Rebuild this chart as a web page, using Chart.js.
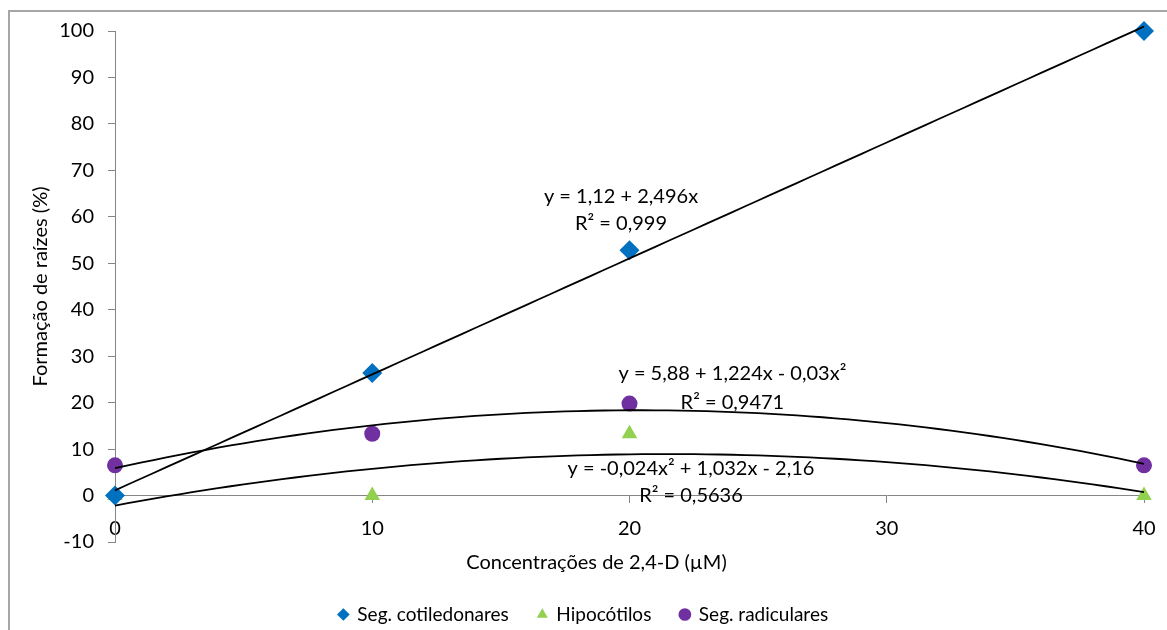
<!DOCTYPE html>
<html>
<head>
<meta charset="utf-8">
<script src="https://cdn.jsdelivr.net/npm/chart.js@4/dist/chart.umd.min.js"></script>
<style>
  html, body { margin: 0; padding: 0; background: #fff; }
  #wrap { width: 1167px; height: 630px; }
</style>
</head>
<body>
<div id="wrap"><canvas id="chart" width="1167" height="630"></canvas></div>
<script>
// values
var concentracoes = [0, 10, 20, 40];
var segCotiledonares = [0, 26.4, 52.8, 100];
var hipocotilos = [0, 0, 13.3, 0];
var segRadiculares = [6.5, 13.3, 19.8, 6.5];
var seriesNames = ['Seg. cotiledonares', 'Hipocótilos', 'Seg. radiculares'];

var xTicks = [0, 10, 20, 30, 40];
var yTicks = [-10, 0, 10, 20, 30, 40, 50, 60, 70, 80, 90, 100];

// trendline coefficients printed on the chart (c0 + c1*x + c2*x^2)
var coefCotiledonares = [1.12, 2.496, 0];
var coefRadiculares = [5.88, 1.224, -0.03];
var coefHipocotilos = [-2.16, 1.032, -0.024];

var eqCotiledonares = ['y = 1,12 + 2,496x', 'R² = 0,999'];
var eqRadiculares = ['y = 5,88 + 1,224x - 0,03x²', 'R² = 0,9471'];
var eqHipocotilos = ['y = -0,024x² + 1,032x - 2,16', 'R² = 0,5636'];

var FONT = 'Lato';
var AXIS_GRAY = '#868686';

function points(ys) {
  return concentracoes.map(function (x, i) { return { x: x, y: ys[i] }; });
}

function trend(coef) {
  var pts = [];
  for (var x = 0; x <= 40; x += 0.5) {
    pts.push({ x: x, y: coef[0] + coef[1] * x + coef[2] * x * x });
  }
  return pts;
}

function trendDataset(coef) {
  return {
    type: 'line',
    data: trend(coef),
    borderColor: '#000',
    borderWidth: 1.8,
    pointRadius: 0,
    tension: 0,
    fill: false,
    clip: false,
    order: 0
  };
}

function markerDataset(label, ys, color, style, radius) {
  return {
    label: label,
    data: points(ys),
    backgroundColor: color,
    borderColor: color,
    pointBackgroundColor: color,
    pointBorderColor: color,
    pointBorderWidth: 0,
    pointStyle: style,
    pointRadius: radius,
    pointHoverRadius: radius,
    showLine: false,
    clip: false,
    order: 1
  };
}

var frame = {
  id: 'frame',
  beforeDraw: function (chart) {
    var ctx = chart.ctx;
    ctx.save();
    ctx.strokeStyle = '#a6a6a6';
    ctx.lineWidth = 2;
    ctx.strokeRect(9, 11, 1400, 800);
    ctx.restore();
  }
};

var labels = {
  id: 'labels',
  afterDatasetsDraw: function (chart) {
    var ctx = chart.ctx, xs = chart.scales.x, ys = chart.scales.y, area = chart.chartArea;
    ctx.save();
    ctx.fillStyle = '#000';
    ctx.font = '20px ' + FONT;
    ctx.textAlign = 'center';
    ctx.textBaseline = 'middle';
    function eq(lines, x, y1, y2) {
      ctx.fillText(lines[0], xs.getPixelForValue(x), ys.getPixelForValue(y1));
      ctx.fillText(lines[1], xs.getPixelForValue(x), ys.getPixelForValue(y2));
    }
    eq(eqCotiledonares, 19.67, 64.3, 58.6);
    eq(eqRadiculares, 24.0, 26.3, 20.0);
    eq(eqHipocotilos, 22.39, 5.8, 0);
    // x axis title, sits a bit left of centre as in the reference
    ctx.fillText('Concentrações de 2,4-D (µM)', (area.left + area.right) / 2 - 33, area.bottom + 21);
    ctx.restore();
  }
};

new Chart(document.getElementById('chart'), {
  type: 'scatter',
  data: {
    datasets: [
      markerDataset(seriesNames[0], segCotiledonares, '#0070C0', 'rectRot', 10),
      markerDataset(seriesNames[1], hipocotilos, '#92D050', 'triangle', 9),
      markerDataset(seriesNames[2], segRadiculares, '#7030A0', 'circle', 8),
      trendDataset(coefCotiledonares),
      trendDataset(coefRadiculares),
      trendDataset(coefHipocotilos)
    ]
  },
  options: {
    responsive: false,
    devicePixelRatio: 1,
    animation: false,
    layout: { padding: { left: 23, right: 23, top: 31, bottom: -4 } },
    plugins: {
      tooltip: { enabled: false },
      legend: {
        position: 'bottom',
        labels: {
          usePointStyle: true,
          boxWidth: 9,
          boxHeight: 9,
          padding: 29,
          color: '#000',
          font: { family: FONT, size: 19 },
          filter: function (item) { return item.datasetIndex < 3; }
        }
      }
    },
    scales: {
      x: {
        type: 'linear',
        min: 0,
        max: 40,
        position: { y: 0 },
        afterBuildTicks: function (s) { s.ticks = xTicks.map(function (v) { return { value: v }; }); },
        afterFit: function (s) { s.paddingLeft = 0; s.paddingRight = 0; },
        ticks: { color: '#000', padding: 14, font: { family: FONT, size: 20 } },
        grid: { drawOnChartArea: false, drawTicks: true, tickLength: 7, color: AXIS_GRAY },
        border: { color: AXIS_GRAY, width: 1 }
      },
      // empty bottom axis that only reserves room for the x title under the plot
      gap: {
        type: 'linear',
        axis: 'x',
        position: 'bottom',
        ticks: { display: false },
        grid: { display: false },
        border: { display: false },
        afterFit: function (s) { s.height = 34; s.paddingLeft = 0; s.paddingRight = 0; }
      },
      y: {
        type: 'linear',
        min: -10,
        max: 100,
        afterBuildTicks: function (s) { s.ticks = yTicks.map(function (v) { return { value: v }; }); },
        afterFit: function (s) { s.width = 92; },
        ticks: { color: '#000', padding: 14, font: { family: FONT, size: 20 } },
        grid: { drawOnChartArea: false, drawTicks: true, tickLength: 7, color: AXIS_GRAY },
        border: { color: AXIS_GRAY, width: 1 },
        title: {
          display: true,
          text: 'Formação de raízes (%)',
          color: '#000',
          font: { family: FONT, size: 20 },
          padding: { top: 6, bottom: 0 }
        }
      }
    }
  },
  plugins: [frame, labels]
});
</script>
</body>
</html>
